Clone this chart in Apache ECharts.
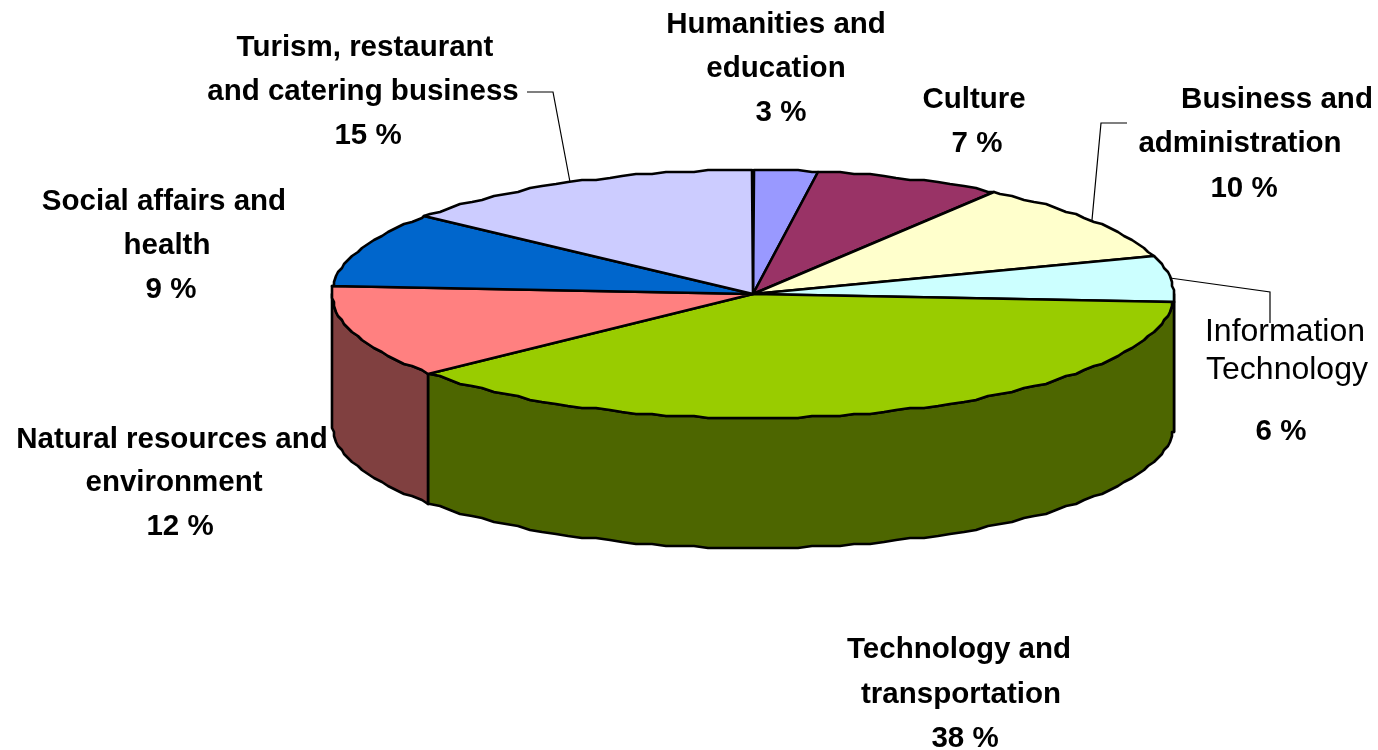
<!DOCTYPE html>
<html>
<head>
<meta charset="utf-8">
<title>Pie</title>
<style>
    html, body { margin: 0; padding: 0; background: #fff; }
    #pieChart { width: 1378px; height: 750px; }
</style>
<script src="https://cdn.jsdelivr.net/npm/echarts@6/dist/echarts.min.js"></script>
</head>
<body>
<div id="pieChart"></div>
<script>
/* ---------- data ---------- */

var categories = [
    'Humanities and\neducation',
    'Culture',
    'Business and\nadministration',
    'Information\nTechnology',
    'Technology and\ntransportation',
    'Natural resources and\nenvironment',
    'Social affairs and\nhealth',
    'Turism, restaurant\nand catering business'
];
// slice sizes as measured on the picture
var shares = [2.5, 7.2, 10.4, 5.9, 38, 12, 9.7, 14.3];
// percentages as printed in the labels
var printedShares = [3, 7, 10, 6, 38, 12, 9, 15];
var topColors = ['#9999FF', '#993366', '#FFFFCC', '#CCFFFF', '#99CC00', '#FF8080', '#0066CC', '#CCCCFF'];
var sideColors = ['#4D4D80', '#4D1A33', '#808066', '#668080', '#4D6600', '#804040', '#003366', '#666680'];

/* ---------- layout ---------- */

var cx = 753, cy = 294, rx = 421, ry = 124, depth = 130;
var edgeStep = 2;   // degrees between outline points
var snap = 2;       // outline points sit on a coarse pixel grid, like the old metafile

// text centre of every label line (name lines, then the percent line)
var labelSpots = [
    [[776, 25], [776, 69], [781, 113]],
    [[974, 100], [977, 144]],
    [[1277, 100], [1240, 144], [1244, 189]],
    [[1285, 332], [1287, 370], [1281, 432]],
    [[959, 650], [961, 695], [965, 739]],
    [[172, 440], [174, 483], [180, 527]],
    [[164, 202], [167, 246], [171, 290]],
    [[365, 48], [363, 92], [368, 136]]
];
// name lines in bold, except this one
var plainNameIndex = 3;

// leader lines: from the label to the elbow, then on to the rim of the slice
var leaders = [
    { index: 2, points: [[1127, 123], [1101, 123]] },
    { index: 3, points: [[1270, 323], [1270, 292]] },
    { index: 7, points: [[527, 92], [553, 92]] }
];

/* ---------- helpers ---------- */

var total = shares.reduce(function (a, b) { return a + b; }, 0);

function startAngle(i) {
    var sum = 0;
    for (var k = 0; k < i; k++) sum += shares[k];
    return sum / total * 360;
}

function rimPoint(angle, drop) {
    var r = angle * Math.PI / 180;
    var x = cx + rx * Math.sin(r);
    var y = cy - ry * Math.cos(r) + (drop || 0);
    return [Math.round(x / snap) * snap, Math.round(y / snap) * snap];
}

function rimPath(from, to, drop) {
    var pts = [rimPoint(from, drop)];
    var a = (Math.floor(from / edgeStep) + 1) * edgeStep;
    for (; a < to; a += edgeStep) pts.push(rimPoint(a, drop));
    pts.push(rimPoint(to, drop));
    return pts;
}

/* ---------- render functions ---------- */

function renderSide(params, api) {
    var i = api.value(0);
    var from = Math.max(startAngle(i), 90);
    var to = Math.min(startAngle(i) + api.value(1) / total * 360, 270);
    if (to <= from) return { type: 'group', children: [] };
    var top = rimPath(from, to, 0);
    var bottom = rimPath(from, to, depth).reverse();
    return {
        type: 'polygon',
        shape: { points: top.concat(bottom) },
        style: { fill: sideColors[i], stroke: '#000', lineWidth: 2.6, lineJoin: 'round' }
    };
}

function renderTop(params, api) {
    var i = api.value(0);
    var from = startAngle(i);
    var to = from + api.value(1) / total * 360;
    return {
        type: 'polygon',
        shape: { points: [[cx, cy]].concat(rimPath(from, to, 0)) },
        style: { fill: topColors[i], stroke: '#000', lineWidth: 2.6, lineJoin: 'round' }
    };
}

function renderLabel(params, api) {
    var i = api.value(0);
    var lines = categories[i].split('\n').concat([printedShares[i] + ' %']);
    var children = lines.map(function (line, k) {
        var plain = i === plainNameIndex && k < lines.length - 1;
        return {
            type: 'text',
            style: {
                x: labelSpots[i][k][0],
                y: labelSpots[i][k][1],
                text: line,
                fill: '#000',
                align: 'center',
                verticalAlign: 'middle',
                font: (plain ? 'normal 32px' : 'bold 29.5px') + ' "Liberation Sans", Arial, sans-serif'
            }
        };
    });
    return { type: 'group', children: children };
}

function renderLeader(params, api) {
    var leader = leaders[params.dataIndex];
    var i = leader.index;
    var mid = startAngle(i) + shares[i] / total * 180;
    return {
        type: 'polyline',
        shape: { points: leader.points.concat([rimPoint(mid, 0)]) },
        style: { fill: null, stroke: '#000', lineWidth: 1.2 }
    };
}

/* ---------- chart ---------- */

var pieChart = echarts.init(document.getElementById('pieChart'));

var rows = shares.map(function (v, i) { return [i, v]; });

var option = {
    backgroundColor: '#fff',
    animation: false,
    tooltip: { show: false },
    series: [{
        type: 'custom',
        coordinateSystem: 'none',
        silent: true,
        renderItem: renderSide,
        data: rows
    }, {
        type: 'custom',
        coordinateSystem: 'none',
        silent: true,
        renderItem: renderTop,
        data: rows
    }, {
        type: 'custom',
        coordinateSystem: 'none',
        silent: true,
        renderItem: renderLeader,
        data: leaders.map(function (l) { return [l.index]; })
    }, {
        type: 'custom',
        coordinateSystem: 'none',
        silent: true,
        renderItem: renderLabel,
        data: rows
    }]
};

pieChart.setOption(option);
</script>
</body>
</html>
